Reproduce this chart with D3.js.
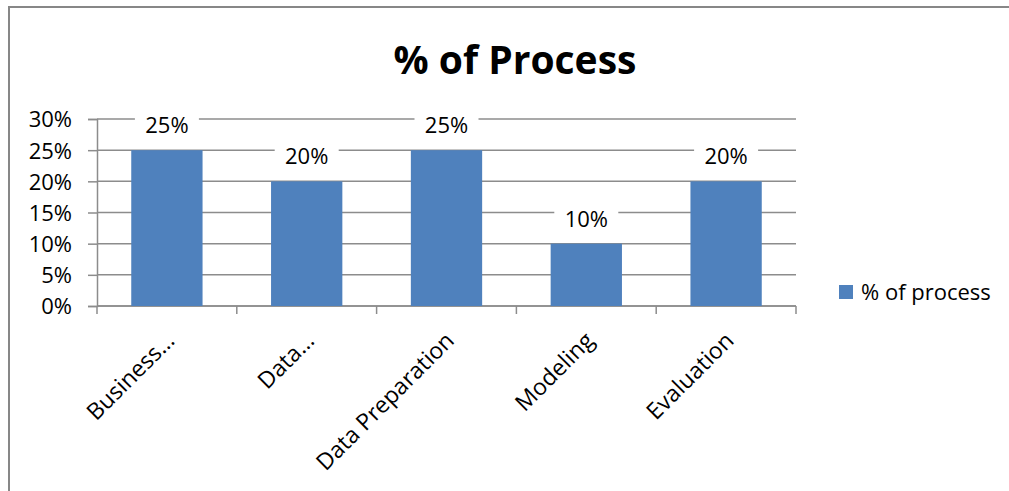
<!DOCTYPE html>
<html>
<head>
<meta charset="utf-8">
<script src="https://cdn.jsdelivr.net/npm/d3@7"></script>
<style>
    body { margin: 0; background: #fff; overflow: hidden; }
    text { font-family: "Open Sans", "Noto Sans", sans-serif; fill: #000; }
</style>
</head>
<body>
<div id="my_dataviz"></div>
<script>
// chart data
var categories = ["Business\u2026", "Data\u2026", "Data Preparation", "Modeling", "Evaluation"];
var values = [0.25, 0.20, 0.25, 0.10, 0.20];
var yTicks = [0, 0.05, 0.10, 0.15, 0.20, 0.25, 0.30];
var seriesName = "% of process";
var chartTitle = "% of Process";

var width = 1009;
var height = 491;
var barColor = "#4F81BD";
var gridColor = "#8c8c8c";

var svg = d3
    .select("#my_dataviz")
    .append("svg")
    .attr("id", "svg")
    .attr("width", width)
    .attr("height", height);

// outer chart frame: only the top and left edges are in view
svg.append("path")
    .attr("d", "M9,491 V7 H1009")
    .attr("fill", "none")
    .attr("stroke", "#878787")
    .attr("stroke-width", 2);

// plot area
var plotLeft = 97, plotRight = 796, plotTop = 119, plotBottom = 306;

var x = d3.scaleBand()
    .domain(categories)
    .range([plotLeft, plotRight])
    .paddingInner(0.49)
    .paddingOuter(0.245);

var y = d3.scaleLinear()
    .domain([0, 0.3])
    .range([plotBottom, plotTop]);

var pct = d3.format(".0%");

// gridlines
svg.selectAll("grid")
    .data(yTicks)
    .enter()
    .append("line")
    .attr("x1", plotLeft)
    .attr("x2", plotRight)
    .attr("y1", function (d) { return y(d); })
    .attr("y2", function (d) { return y(d); })
    .attr("stroke", gridColor)
    .attr("stroke-width", 1.5);

// y axis
var yAxis = svg.append("g")
    .attr("transform", "translate(" + plotLeft + ",0)")
    .call(d3.axisLeft(y).tickValues(yTicks).tickFormat(pct).tickSize(9).tickPadding(16));
yAxis.select(".domain").attr("stroke", gridColor).attr("stroke-width", 1.5);
yAxis.selectAll(".tick line").attr("stroke", gridColor).attr("stroke-width", 1.5);
yAxis.selectAll(".tick text")
    .style("font-size", "22px")
    .style("font-family", "'Open Sans', sans-serif")
    .attr("fill", "#000")
    .attr("dy", "0.36em");

// x axis (ticks at band boundaries)
var step = x.step();
var xBounds = d3.range(categories.length + 1).map(function (i) { return plotLeft + i * step; });
svg.append("line")
    .attr("x1", plotLeft)
    .attr("x2", plotRight)
    .attr("y1", plotBottom)
    .attr("y2", plotBottom)
    .attr("stroke", gridColor)
    .attr("stroke-width", 1.5);
svg.selectAll("xticks")
    .data(xBounds)
    .enter()
    .append("line")
    .attr("x1", function (d) { return d; })
    .attr("x2", function (d) { return d; })
    .attr("y1", plotBottom)
    .attr("y2", plotBottom + 8)
    .attr("stroke", gridColor)
    .attr("stroke-width", 1.5);

// bars
svg.selectAll("bars")
    .data(values)
    .enter()
    .append("rect")
    .attr("x", function (d, i) { return x(categories[i]); })
    .attr("y", function (d) { return y(d); })
    .attr("width", x.bandwidth())
    .attr("height", function (d) { return plotBottom - y(d); })
    .attr("fill", barColor);

// data labels with white box behind
var labels = svg.selectAll("dlabels")
    .data(values)
    .enter()
    .append("g")
    .attr("transform", function (d, i) {
        return "translate(" + (x(categories[i]) + x.bandwidth() / 2) + "," + (y(d) - 17) + ")";
    });
labels.append("rect")
    .attr("x", -32)
    .attr("y", -21)
    .attr("width", 64)
    .attr("height", 28)
    .attr("fill", "#fff");
labels.append("text")
    .attr("text-anchor", "middle")
    .style("font-size", "22px")
    .text(function (d) { return pct(d); });

// category labels, rotated
svg.selectAll("catlabels")
    .data(categories)
    .enter()
    .append("text")
    .attr("text-anchor", "end")
    .attr("transform", function (d) {
        return "translate(" + (x(d) + x.bandwidth() / 2 + 9) + "," + 342 + ") rotate(-45)";
    })
    .style("font-size", "23px")
    .text(function (d) { return d; });

// title
svg.append("text")
    .attr("x", 515)
    .attr("y", 74)
    .attr("text-anchor", "middle")
    .style("font-size", "39px")
    .style("font-weight", "bold")
    .text(chartTitle);

// legend
svg.append("rect")
    .attr("x", 839)
    .attr("y", 285)
    .attr("width", 14)
    .attr("height", 14)
    .attr("fill", barColor);
svg.append("text")
    .attr("x", 861)
    .attr("y", 300)
    .style("font-size", "22px")
    .text(seriesName);
</script>
</body>
</html>
